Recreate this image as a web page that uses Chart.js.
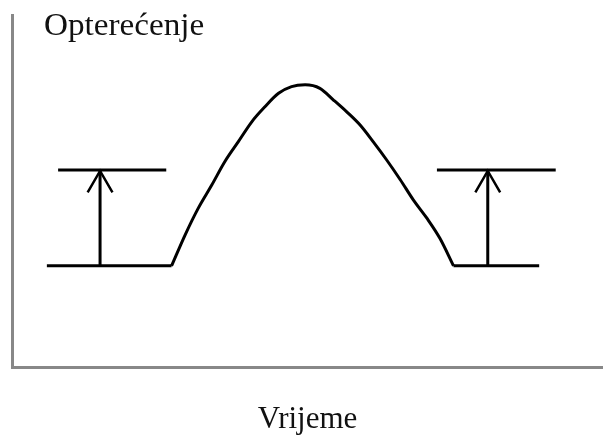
<!DOCTYPE html>
<html>
<head>
<meta charset="utf-8">
<script src="https://cdn.jsdelivr.net/npm/chart.js@4/dist/chart.umd.min.js"></script>
<style>
html,body{margin:0;padding:0;background:#fff;}
#wrap{width:603px;height:438px;}
</style>
</head>
<body>
<div id="wrap"><canvas id="c" width="603" height="438"></canvas></div>
<script>
// Axis titles
const yTitle = 'Opterećenje';
const xTitle = 'Vrijeme';

// Load curve (time, load)
const baseLeftX = [5.9, 27.0];
const humpX = [27.0, 29.3, 31.5, 33.8, 36.0, 38.3, 40.6, 42.8, 45.1, 47.3, 49.6, 52.1, 54.4, 56.6, 58.9, 61.1, 63.4, 65.7, 67.9, 70.2, 72.4, 74.7];
const humpY = [28.9, 37.7, 45.2, 51.8, 58.4, 64.1, 69.8, 74.0, 77.8, 79.7, 80.2, 79.2, 75.9, 72.6, 68.8, 64.1, 58.9, 53.3, 47.6, 42.4, 36.7, 28.9];
const baseRightX = [74.7, 89.2];

// Levels
const upperLevel = 56.1;
const baseLevel = 28.9;
const leftLevelX = [7.8, 26.1];
const rightLevelX = [71.9, 92.0];

// Arrows (stem x, head barbs)
const arrowX = [14.9, 80.5];
const arrowTipY = 55.8;
const barbY = 49.7;
const barbHalf = 2.1;

function pts(xs, ys){ return xs.map((x,i)=>({x:x, y:ys[i]})); }

const black = '#000';
const lw = 3;
const common = {borderColor: black, borderWidth: lw, pointRadius: 0, tension: 0, fill: false, borderJoinStyle: 'miter', borderCapStyle: 'butt'};

const datasets = [
  Object.assign({label:'baseL', data: pts(baseLeftX, [baseLevel, baseLevel])}, common),
  Object.assign({label:'hump', data: pts(humpX, humpY)}, common, {cubicInterpolationMode: 'monotone', borderJoinStyle: 'round'}),
  Object.assign({label:'baseR', data: pts(baseRightX, [baseLevel, baseLevel])}, common),
  Object.assign({label:'levelL', data: pts(leftLevelX, [upperLevel, upperLevel])}, common),
  Object.assign({label:'levelR', data: pts(rightLevelX, [upperLevel, upperLevel])}, common),
];
arrowX.forEach((ax, i) => {
  datasets.push(Object.assign({label:'stem'+i, data: pts([ax, ax], [baseLevel, arrowTipY])}, common));
  datasets.push(Object.assign({label:'head'+i, data: pts([ax-barbHalf, ax, ax+barbHalf], [barbY, arrowTipY, barbY])}, common, {borderWidth: 2.5}));
});

const titlePlugin = {
  id: 'yTitleText',
  afterDraw(chart){
    const ctx = chart.ctx;
    const a = chart.chartArea;
    ctx.save();
    ctx.font = '31px "Liberation Serif", "Times New Roman", serif';
    ctx.fillStyle = '#111';
    ctx.textBaseline = 'alphabetic';
    ctx.textAlign = 'left';
    ctx.translate(a.left + 32, a.top + 20);
    ctx.scale(1.07, 1);
    ctx.fillText(yTitle, 0, 0);
    ctx.restore();
  }
};

new Chart(document.getElementById('c'), {
  type: 'line',
  data: { datasets },
  plugins: [titlePlugin],
  options: {
    responsive: false,
    animation: false,
    layout: { padding: { left: 12, top: 15, right: 0, bottom: 0 } },
    plugins: { legend: { display: false }, tooltip: { enabled: false }, title: { display: false } },
    scales: {
      x: {
        type: 'linear', min: 0, max: 100,
        grid: { display: false, drawTicks: false },
        border: { display: true, color: '#888', width: 3 },
        ticks: { display: false },
        title: { display: true, text: xTitle, color: '#111',
          font: { family: '"Liberation Serif", "Times New Roman", serif', size: 31, lineHeight: 1.2 },
          padding: { top: 33, bottom: 0 } }
      },
      y: {
        type: 'linear', min: 0, max: 100,
        grid: { display: false, drawTicks: false },
        border: { display: true, color: '#888', width: 3 },
        ticks: { display: false }
      }
    }
  }
});
</script>
</body>
</html>
